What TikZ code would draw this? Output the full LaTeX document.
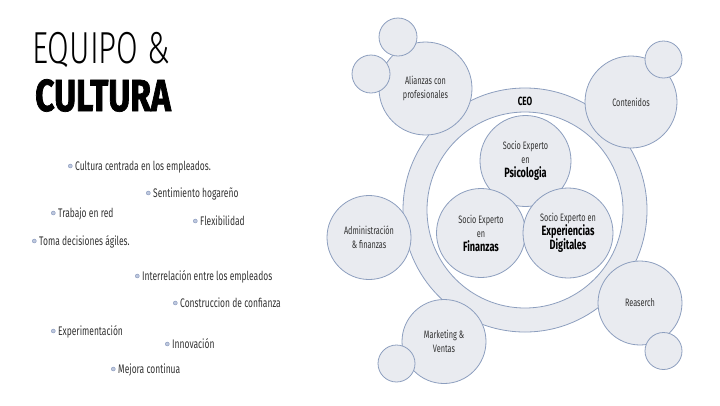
\documentclass[tikz,border=0pt]{standalone}
\usepackage{fontspec}
\setmainfont{Fira Sans}[FakeStretch=0.68]
\newfontfamily\titlefont{Fira Sans Light}[FakeStretch=0.7]
\newfontfamily\titlebold{Fira Sans}[FakeStretch=0.75, BoldFeatures={FakeBold=1.6}]
\usetikzlibrary{positioning}
\definecolor{bubblefill}{RGB}{233, 235, 240}
\definecolor{bubbleline}{RGB}{140, 158, 190}
\definecolor{textgray}{RGB}{50, 50, 50}
\definecolor{dotfill}{RGB}{190, 200, 222}
\definecolor{dotline}{RGB}{130, 148, 185}
\tikzset{
  bubble/.style={
    circle, draw=bubbleline, fill=bubblefill, line width=0.8pt,
    inner sep=0pt, align=center, text=textgray,
    font=\fontsize{10.8}{14}\selectfont
  },
  hole/.style={circle, draw=bubbleline, fill=white, line width=0.8pt, inner sep=0pt},
  dot/.style={circle, draw=dotline, fill=dotfill, line width=0.4pt, inner sep=0pt, minimum size=4bp},
  item/.style={
    anchor=west, inner sep=0pt, text height=9bp, text depth=0pt,
    font=\fontsize{12.5}{14}\selectfont, text=textgray,
    label={[dot, label distance=2.5bp]left:{}}
  }
}
\newcommand{\bigbold}[1]{{\fontsize{13.5}{16}\selectfont\bfseries\color{black}#1}}

\begin{document}
\begin{tikzpicture}[x=1bp, y=-1bp]
\useasboundingbox (0,0) rectangle (720,405);

% Titulo
\node[anchor=base west, inner sep=0pt, font=\titlefont\fontsize{45}{45}\selectfont] (titulo1) at (32,63) {EQUIPO \&};
\node[anchor=base west, inner sep=0pt, font=\titlebold\fontsize{45}{45}\selectfont\bfseries] (titulo2) at (35,111) {CULTURA};

% Lista de valores
\node[item] (cultura) at (75,166) {Cultura centrada en los empleados.};
\node[item] (hogar) at (153,193) {Sentimiento hogareño};
\node[item] (red) at (58,213) {Trabajo en red};
\node[item] (flex) at (200,221) {Flexibilidad};
\node[item] (toma) at (39,241) {Toma decisiones ágiles.};
\node[item] (inter) at (142,276) {Interrelación entre los empleados};
\node[item] (confianza) at (180,303) {Construccion de confianza};
\node[item] (exper) at (58,331) {Experimentación};
\node[item] (innov) at (172,344) {Innovación};
\node[item] (mejora) at (118,369) {Mejora continua};

% Anillo CEO
\node[bubble, minimum size=244bp] (ceo) at (525,210) {};
\node[hole, minimum size=196bp] (hueco) at (ceo.center) {};
\node[font=\fontsize{12}{14}\selectfont\bfseries] (ceotxt) at (525,101) {CEO};

% Socios expertos
\node[bubble, minimum size=91bp] (psico) at (525.5,161) {Socio Experto\\en\\\bigbold{Psicologia}};
\node[bubble, minimum size=89bp] (finanzas) at (481,233) {Socio Experto\\en\\\bigbold{Finanzas}};
\node[bubble, minimum size=90bp] (digital) at (568,233) {Socio Experto en\\\bigbold{Experiencias}\\\bigbold{Digitales}};

% Areas alrededor
\node[bubble, minimum size=93bp] (alianzas) at (425.5,88.5) {Alianzas con\\profesionales};
\node[bubble, minimum size=92bp] (contenidos) at (631,102) {Contenidos};
\node[bubble, minimum size=84bp] (admin) at (369,237.5) {Administración\\\& finanzas};
\node[bubble, minimum size=84bp] (marketing) at (444,341.5) {Marketing \&\\Ventas};
\node[bubble, minimum size=84bp] (research) at (640,303) {Reaserch};

% Burbujas pequenas
\node[bubble, minimum size=38bp] (ali1) at (398,37) {};
\node[bubble, minimum size=38bp] (ali2) at (371,74) {};
\node[bubble, minimum size=37bp] (con1) at (663.5,59.5) {};
\node[bubble, minimum size=37bp] (mkt1) at (396.5,363.5) {};
\node[bubble, minimum size=37bp] (res1) at (663.5,351) {};

\end{tikzpicture}
\end{document}
